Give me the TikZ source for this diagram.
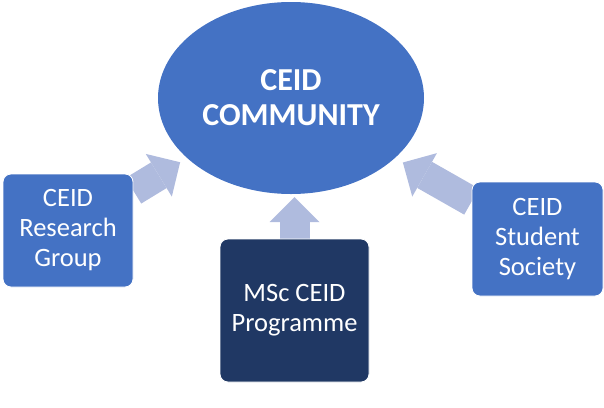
\documentclass[tikz,border=0pt]{standalone}
\usepackage{fontspec}
\setmainfont{Carlito}
\usetikzlibrary{arrows.meta,shapes.geometric,backgrounds}
\definecolor{ceidblue}{HTML}{4472C4}
\definecolor{ceidnavy}{HTML}{203864}
\definecolor{ceidarrow}{HTML}{AFBBDE}

\begin{document}
\begin{tikzpicture}[x=1pt, y=-1pt,
  every node/.style={text=white, align=center},
  unit/.style={rectangle, rounded corners=8pt, draw=white, line width=0.8pt, inner sep=0pt, font=\fontsize{26.5}{30}\selectfont},
  flow/.style={ceidarrow, line width=30pt, -{Triangle[length=25pt, width=50pt, line width=0pt]}}]
  \useasboundingbox (0,0) rectangle (604,407);
  \node[ellipse, fill=ceidblue, minimum width=266, minimum height=192, inner sep=0pt,
        font=\bfseries\fontsize{32}{35}\selectfont] (community) at (291,98) {CEID\\COMMUNITY};
  \node[unit, fill=ceidblue, minimum width=130, minimum height=113] (research) at (68,230.5) {CEID\\Research\\Group};
  \node[unit, fill=ceidnavy, minimum width=149, minimum height=143] (programme) at (294.5,310.5) {MSc CEID\\Programme};
  \node[unit, fill=ceidblue, minimum width=131, minimum height=114] (society) at (537.5,239) {CEID\\Student\\Society};
  \begin{scope}[on background layer]
    \draw[flow, shorten >=8pt] (research) -- (community.210);
    \draw[flow, shorten >=3pt] (programme) -- (programme |- community.south);
    \draw[flow, shorten >=9pt] (society) -- (community.330);
  \end{scope}
\end{tikzpicture}
\end{document}
